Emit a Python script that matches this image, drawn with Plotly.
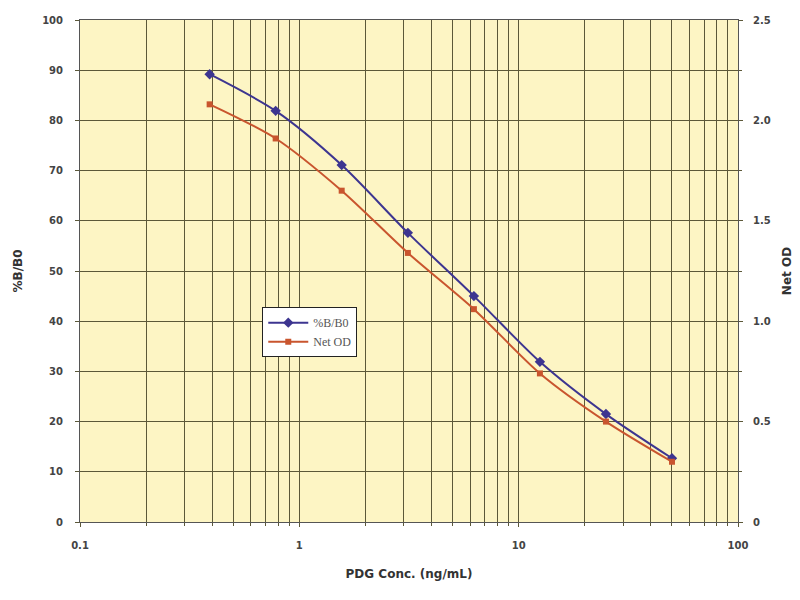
import plotly.graph_objects as go

conc = [0.39, 0.78, 1.56, 3.125, 6.25, 12.5, 25, 50]
bb0 = [89.2, 81.9, 71.1, 57.6, 45.0, 31.9, 21.5, 12.7]
net_od = [2.08, 1.91, 1.65, 1.34, 1.06, 0.74, 0.50, 0.30]

x_tickvals = [0.1, 1, 10, 100]
x_ticktext = ["0.1", "1", "10", "100"]
y2_tickvals = [0, 0.5, 1.0, 1.5, 2.0, 2.5]
y2_ticktext = ["0", "0.5", "1.0", "1.5", "2.0", "2.5"]

grid = "#5c5838"
tickfont = dict(family="DejaVu Sans", size=10, color="#444", weight="bold")
titlefont = dict(family="DejaVu Sans", size=12, color="#333", weight="bold")

fig = go.Figure()
fig.add_trace(go.Scatter(
    x=conc, y=bb0, name="%B/B0", mode="lines+markers",
    line=dict(color="#3d3590", width=2, shape="spline", smoothing=0.8),
    marker=dict(symbol="diamond", size=8, color="#3d3590"),
))
fig.add_trace(go.Scatter(
    x=conc, y=net_od, name="Net OD", mode="lines+markers", yaxis="y2",
    line=dict(color="#c9552e", width=2, shape="spline", smoothing=0.8),
    marker=dict(symbol="square", size=6, color="#c9552e"),
))

fig.update_layout(
    width=800, height=600,
    margin=dict(l=72, r=70, t=12, b=86),
    paper_bgcolor="white",
    plot_bgcolor="#fdf5c4",
    showlegend=True,
    legend=dict(x=0.277, y=0.428, xanchor="left", yanchor="top",
                bgcolor="white", bordercolor="#222", borderwidth=1,
                font=dict(family="Liberation Serif", size=12, color="#555"),
                tracegroupgap=2, itemwidth=40),
    xaxis=dict(type="log", range=[-1, 2], tickvals=x_tickvals, ticktext=x_ticktext,
               automargin=False,
               showgrid=True, gridcolor=grid, gridwidth=1.3,
               minor=dict(showgrid=True, gridcolor=grid, gridwidth=1.3, dtick="D1", ticks="outside", ticklen=3, tickcolor=grid),
               ticks="outside", ticklen=4, tickcolor=grid, ticklabelstandoff=10,
               showline=True, linecolor="#555", linewidth=1, mirror=True,
               tickfont=tickfont,
               title=dict(text="PDG Conc. (ng/mL)", font=titlefont, standoff=19)),
    yaxis=dict(range=[0, 100], dtick=10, showgrid=True, gridcolor=grid, gridwidth=1.3,
               automargin=False,
               ticks="outside", ticklen=4, tickcolor=grid, ticklabelstandoff=10,
               showline=True, linecolor="#555", linewidth=1,
               zeroline=False, tickfont=tickfont,
               title=dict(text="%B/B0", font=titlefont, standoff=16)),
    yaxis2=dict(range=[0, 2.5], overlaying="y", side="right",
                automargin=False,
                tickvals=y2_tickvals, ticktext=y2_ticktext, showgrid=False,
                ticks="outside", ticklen=4, tickcolor=grid, ticklabelstandoff=8,
                minor=dict(dtick=0.25, ticks="outside", ticklen=3, tickcolor=grid),
                showline=True, linecolor="#555", linewidth=1,
                zeroline=False, tickfont=tickfont,
                title=dict(text="Net OD", font=titlefont, standoff=12)),
)

fig.write_html("out.html")
